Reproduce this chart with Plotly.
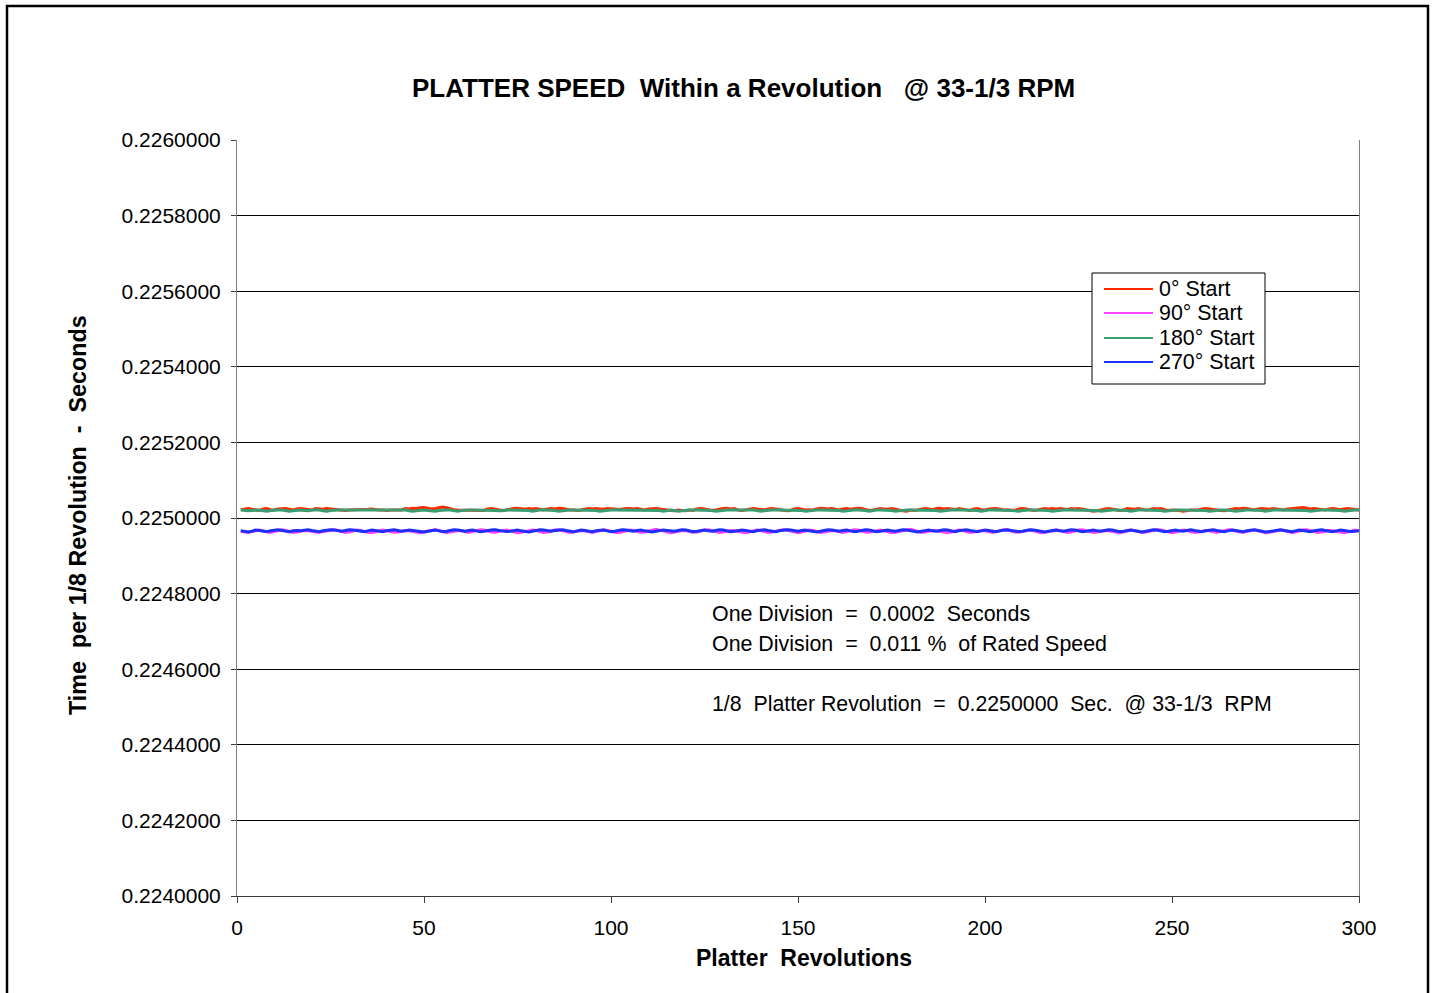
import plotly.graph_objects as go

revolutions = list(range(1, 301))

t_0deg = [
0.225022,0.225024,0.225025,0.225023,0.225021,0.225020,0.225024,0.225025,0.225022,0.225021,0.225024,0.225025,0.225025,0.225023,0.225021,0.225024,0.225025,0.225024,0.225022,0.225021,
0.225025,0.225024,0.225023,0.225025,0.225024,0.225022,0.225021,0.225021,0.225020,0.225021,0.225021,0.225022,0.225021,0.225021,0.225023,0.225024,0.225022,0.225021,0.225021,0.225020,
0.225021,0.225021,0.225020,0.225021,0.225025,0.225024,0.225026,0.225025,0.225027,0.225028,0.225026,0.225024,0.225025,0.225027,0.225029,0.225027,0.225024,0.225022,0.225021,0.225021,
0.225021,0.225020,0.225021,0.225021,0.225021,0.225020,0.225024,0.225025,0.225023,0.225021,0.225020,0.225021,0.225024,0.225025,0.225026,0.225024,0.225023,0.225025,0.225024,0.225025,
0.225022,0.225021,0.225024,0.225025,0.225024,0.225026,0.225025,0.225022,0.225021,0.225021,0.225020,0.225021,0.225024,0.225025,0.225024,0.225025,0.225024,0.225023,0.225025,0.225025,
0.225024,0.225022,0.225024,0.225025,0.225025,0.225024,0.225025,0.225023,0.225021,0.225024,0.225025,0.225025,0.225024,0.225022,0.225021,0.225020,0.225019,0.225021,0.225020,0.225019,
0.225021,0.225020,0.225024,0.225025,0.225024,0.225021,0.225020,0.225021,0.225024,0.225025,0.225026,0.225024,0.225025,0.225021,0.225020,0.225021,0.225024,0.225025,0.225024,0.225022,
0.225021,0.225024,0.225025,0.225024,0.225022,0.225020,0.225019,0.225020,0.225024,0.225025,0.225023,0.225021,0.225022,0.225021,0.225024,0.225026,0.225025,0.225024,0.225025,0.225022,
0.225021,0.225024,0.225025,0.225023,0.225024,0.225026,0.225025,0.225022,0.225020,0.225021,0.225024,0.225025,0.225024,0.225023,0.225025,0.225024,0.225021,0.225019,0.225018,0.225021,
0.225020,0.225021,0.225024,0.225025,0.225024,0.225022,0.225025,0.225026,0.225024,0.225025,0.225024,0.225022,0.225025,0.225024,0.225021,0.225020,0.225024,0.225025,0.225022,0.225021,
0.225024,0.225025,0.225025,0.225023,0.225021,0.225022,0.225021,0.225020,0.225024,0.225025,0.225024,0.225021,0.225020,0.225021,0.225024,0.225025,0.225024,0.225025,0.225023,0.225025,
0.225024,0.225022,0.225025,0.225024,0.225025,0.225023,0.225021,0.225020,0.225018,0.225019,0.225021,0.225024,0.225025,0.225024,0.225021,0.225020,0.225021,0.225025,0.225024,0.225023,
0.225025,0.225024,0.225021,0.225022,0.225025,0.225024,0.225025,0.225022,0.225020,0.225021,0.225021,0.225020,0.225018,0.225020,0.225021,0.225021,0.225021,0.225024,0.225025,0.225024,
0.225022,0.225021,0.225020,0.225019,0.225021,0.225024,0.225025,0.225024,0.225026,0.225025,0.225022,0.225021,0.225024,0.225025,0.225024,0.225023,0.225025,0.225024,0.225022,0.225021,
0.225024,0.225025,0.225025,0.225027,0.225028,0.225026,0.225024,0.225025,0.225024,0.225022,0.225021,0.225024,0.225025,0.225024,0.225022,0.225024,0.225025,0.225024,0.225022,0.225021,
]

t_90deg = [
0.224964,0.224963,0.224962,0.224964,0.224966,0.224968,0.224966,0.224963,0.224962,0.224964,0.224967,0.224969,0.224967,0.224964,0.224962,0.224963,0.224965,0.224967,0.224966,0.224964,
0.224963,0.224962,0.224964,0.224966,0.224968,0.224969,0.224967,0.224964,0.224962,0.224963,0.224966,0.224968,0.224967,0.224964,0.224962,0.224961,0.224963,0.224966,0.224968,0.224966,
0.224964,0.224962,0.224963,0.224965,0.224967,0.224966,0.224964,0.224962,0.224961,0.224963,0.224965,0.224967,0.224969,0.224967,0.224964,0.224962,0.224963,0.224965,0.224967,0.224966,
0.224963,0.224962,0.224964,0.224967,0.224969,0.224968,0.224965,0.224963,0.224962,0.224964,0.224966,0.224968,0.224966,0.224963,0.224961,0.224962,0.224964,0.224966,0.224968,0.224967,
0.224964,0.224962,0.224963,0.224966,0.224968,0.224969,0.224967,0.224964,0.224962,0.224963,0.224965,0.224967,0.224966,0.224963,0.224962,0.224964,0.224967,0.224969,0.224967,0.224964,
0.224962,0.224961,0.224963,0.224966,0.224968,0.224967,0.224964,0.224962,0.224963,0.224965,0.224968,0.224970,0.224968,0.224965,0.224962,0.224961,0.224963,0.224965,0.224967,0.224966,
0.224964,0.224962,0.224963,0.224966,0.224968,0.224969,0.224967,0.224964,0.224962,0.224963,0.224965,0.224967,0.224966,0.224964,0.224962,0.224961,0.224963,0.224966,0.224968,0.224967,
0.224964,0.224962,0.224963,0.224965,0.224967,0.224969,0.224968,0.224965,0.224962,0.224961,0.224963,0.224966,0.224968,0.224967,0.224964,0.224962,0.224963,0.224965,0.224967,0.224966,
0.224963,0.224962,0.224964,0.224967,0.224969,0.224968,0.224965,0.224963,0.224962,0.224964,0.224966,0.224968,0.224966,0.224963,0.224961,0.224962,0.224964,0.224966,0.224969,0.224970,
0.224968,0.224965,0.224962,0.224963,0.224965,0.224967,0.224966,0.224964,0.224962,0.224961,0.224963,0.224966,0.224968,0.224967,0.224964,0.224962,0.224963,0.224965,0.224967,0.224966,
0.224963,0.224962,0.224964,0.224967,0.224969,0.224968,0.224965,0.224963,0.224962,0.224964,0.224966,0.224968,0.224966,0.224963,0.224961,0.224962,0.224964,0.224966,0.224968,0.224967,
0.224964,0.224962,0.224963,0.224966,0.224968,0.224969,0.224967,0.224964,0.224962,0.224963,0.224965,0.224967,0.224966,0.224964,0.224962,0.224961,0.224963,0.224966,0.224968,0.224967,
0.224964,0.224962,0.224963,0.224965,0.224967,0.224969,0.224968,0.224965,0.224962,0.224961,0.224963,0.224966,0.224968,0.224967,0.224964,0.224962,0.224963,0.224965,0.224967,0.224966,
0.224963,0.224962,0.224964,0.224967,0.224969,0.224968,0.224965,0.224963,0.224962,0.224964,0.224966,0.224968,0.224966,0.224963,0.224961,0.224962,0.224964,0.224966,0.224968,0.224967,
0.224964,0.224962,0.224963,0.224966,0.224968,0.224969,0.224967,0.224964,0.224962,0.224963,0.224965,0.224967,0.224966,0.224964,0.224962,0.224961,0.224963,0.224966,0.224968,0.224966,
]

t_180deg = [
0.225021,0.225020,0.225019,0.225020,0.225021,0.225021,0.225019,0.225018,0.225020,0.225021,0.225021,0.225021,0.225020,0.225018,0.225019,0.225021,0.225021,0.225020,0.225019,0.225021,
0.225021,0.225021,0.225019,0.225018,0.225020,0.225021,0.225021,0.225021,0.225021,0.225022,0.225021,0.225021,0.225021,0.225022,0.225023,0.225022,0.225021,0.225021,0.225021,0.225021,
0.225021,0.225021,0.225021,0.225021,0.225021,0.225019,0.225018,0.225019,0.225021,0.225021,0.225020,0.225019,0.225018,0.225020,0.225021,0.225021,0.225021,0.225019,0.225018,0.225020,
0.225021,0.225021,0.225021,0.225021,0.225021,0.225021,0.225021,0.225021,0.225020,0.225019,0.225019,0.225021,0.225021,0.225021,0.225021,0.225021,0.225021,0.225020,0.225018,0.225020,
0.225021,0.225021,0.225021,0.225021,0.225020,0.225018,0.225019,0.225021,0.225021,0.225021,0.225021,0.225021,0.225021,0.225021,0.225021,0.225020,0.225018,0.225019,0.225021,0.225021,
0.225021,0.225021,0.225021,0.225021,0.225021,0.225021,0.225021,0.225021,0.225021,0.225021,0.225021,0.225021,0.225020,0.225018,0.225019,0.225021,0.225020,0.225018,0.225019,0.225021,
0.225021,0.225021,0.225021,0.225021,0.225021,0.225021,0.225020,0.225018,0.225019,0.225021,0.225021,0.225021,0.225021,0.225021,0.225022,0.225021,0.225021,0.225021,0.225020,0.225018,
0.225019,0.225021,0.225021,0.225021,0.225021,0.225021,0.225021,0.225021,0.225021,0.225021,0.225020,0.225018,0.225019,0.225021,0.225021,0.225021,0.225021,0.225021,0.225021,0.225021,
0.225020,0.225018,0.225019,0.225021,0.225021,0.225021,0.225021,0.225020,0.225018,0.225020,0.225021,0.225021,0.225021,0.225021,0.225020,0.225018,0.225019,0.225021,0.225021,0.225021,
0.225021,0.225021,0.225021,0.225021,0.225021,0.225021,0.225020,0.225018,0.225019,0.225021,0.225021,0.225021,0.225022,0.225021,0.225021,0.225021,0.225021,0.225020,0.225018,0.225020,
0.225021,0.225021,0.225021,0.225021,0.225021,0.225021,0.225020,0.225019,0.225018,0.225020,0.225021,0.225021,0.225021,0.225021,0.225021,0.225021,0.225020,0.225018,0.225019,0.225021,
0.225021,0.225021,0.225021,0.225021,0.225021,0.225021,0.225021,0.225021,0.225021,0.225020,0.225018,0.225019,0.225021,0.225021,0.225021,0.225021,0.225021,0.225020,0.225018,0.225020,
0.225021,0.225021,0.225021,0.225021,0.225021,0.225021,0.225020,0.225018,0.225019,0.225021,0.225021,0.225021,0.225021,0.225021,0.225021,0.225021,0.225021,0.225021,0.225020,0.225018,
0.225019,0.225021,0.225021,0.225021,0.225021,0.225020,0.225018,0.225019,0.225021,0.225021,0.225021,0.225021,0.225021,0.225020,0.225018,0.225020,0.225021,0.225021,0.225021,0.225021,
0.225021,0.225021,0.225021,0.225021,0.225021,0.225020,0.225018,0.225019,0.225021,0.225021,0.225021,0.225021,0.225021,0.225021,0.225020,0.225018,0.225019,0.225021,0.225021,0.225021,
]

t_270deg = [
0.224966,0.224964,0.224963,0.224965,0.224968,0.224967,0.224965,0.224964,0.224966,0.224968,0.224969,0.224967,0.224965,0.224964,0.224966,0.224967,0.224966,0.224968,0.224969,0.224967,
0.224965,0.224964,0.224966,0.224968,0.224969,0.224968,0.224966,0.224965,0.224967,0.224969,0.224968,0.224966,0.224965,0.224964,0.224966,0.224968,0.224967,0.224965,0.224964,0.224966,
0.224968,0.224969,0.224967,0.224965,0.224966,0.224968,0.224967,0.224965,0.224964,0.224963,0.224965,0.224967,0.224968,0.224966,0.224964,0.224965,0.224967,0.224969,0.224968,0.224966,
0.224965,0.224967,0.224968,0.224966,0.224964,0.224965,0.224967,0.224968,0.224969,0.224967,0.224965,0.224964,0.224965,0.224967,0.224968,0.224966,0.224964,0.224963,0.224965,0.224967,
0.224969,0.224968,0.224966,0.224965,0.224967,0.224968,0.224969,0.224967,0.224965,0.224964,0.224966,0.224968,0.224967,0.224965,0.224964,0.224966,0.224967,0.224968,0.224966,0.224964,
0.224965,0.224967,0.224969,0.224968,0.224966,0.224965,0.224967,0.224968,0.224966,0.224964,0.224963,0.224965,0.224967,0.224968,0.224967,0.224966,0.224965,0.224967,0.224969,0.224968,
0.224966,0.224964,0.224965,0.224967,0.224968,0.224966,0.224965,0.224967,0.224969,0.224968,0.224966,0.224964,0.224965,0.224967,0.224968,0.224967,0.224965,0.224964,0.224966,0.224968,
0.224969,0.224967,0.224965,0.224964,0.224966,0.224968,0.224969,0.224968,0.224966,0.224965,0.224967,0.224968,0.224966,0.224964,0.224963,0.224965,0.224967,0.224969,0.224968,0.224966,
0.224965,0.224967,0.224968,0.224966,0.224964,0.224965,0.224967,0.224969,0.224968,0.224966,0.224964,0.224965,0.224967,0.224968,0.224966,0.224965,0.224967,0.224969,0.224968,0.224966,
0.224964,0.224963,0.224965,0.224967,0.224968,0.224966,0.224965,0.224967,0.224969,0.224968,0.224966,0.224964,0.224966,0.224968,0.224969,0.224967,0.224965,0.224964,0.224966,0.224968,
0.224967,0.224965,0.224964,0.224966,0.224968,0.224969,0.224967,0.224965,0.224964,0.224965,0.224967,0.224969,0.224968,0.224966,0.224964,0.224963,0.224965,0.224967,0.224968,0.224966,
0.224965,0.224967,0.224969,0.224968,0.224966,0.224964,0.224965,0.224967,0.224968,0.224966,0.224965,0.224967,0.224969,0.224968,0.224966,0.224964,0.224965,0.224967,0.224968,0.224966,
0.224964,0.224963,0.224965,0.224967,0.224969,0.224968,0.224966,0.224964,0.224965,0.224967,0.224968,0.224966,0.224965,0.224967,0.224969,0.224967,0.224965,0.224964,0.224966,0.224968,
0.224969,0.224967,0.224965,0.224964,0.224966,0.224968,0.224967,0.224965,0.224964,0.224966,0.224968,0.224969,0.224967,0.224965,0.224963,0.224964,0.224966,0.224968,0.224969,0.224967,
0.224965,0.224964,0.224966,0.224968,0.224967,0.224965,0.224964,0.224966,0.224968,0.224969,0.224967,0.224965,0.224964,0.224966,0.224968,0.224967,0.224965,0.224964,0.224965,0.224966,
]

series_names = ["0° Start", "90° Start", "180° Start", "270° Start"]
series_colors = ["#FF2A00", "#FF44FF", "#3A9E72", "#1E2EFF"]
series_values = [t_0deg, t_90deg, t_180deg, t_270deg]

y_ticks = [0.2240 + 0.0002 * i for i in range(11)]
x_ticks = [0, 50, 100, 150, 200, 250, 300]

FONT = "Liberation Sans, Arial, sans-serif"
NB = "\u00a0"

fig = go.Figure()
for name, color, vals in zip(series_names, series_colors, series_values):
    fig.add_trace(go.Scatter(
        x=revolutions, y=vals, mode="lines", name=name,
        line=dict(color=color, width=3, shape="linear"),
        showlegend=False,
    ))

L, R, T, B = 237, 75, 140, 97
W, H = 1434, 993
pw, ph = W - L - R, H - T - B

def px(x):
    return (x - L) / pw

def py(y):
    return (H - B - y) / ph

fig.update_layout(
    width=W, height=H,
    margin=dict(l=L, r=R, t=T, b=B, pad=0),
    paper_bgcolor="white", plot_bgcolor="white",
    font=dict(family=FONT, size=21, color="black"),
    showlegend=False,
    xaxis=dict(
        range=[0, 300], tickmode="array", tickvals=x_ticks,
        ticktext=[str(v) for v in x_ticks],
        showgrid=False, zeroline=False,
        showline=True, linecolor="#404040", linewidth=1,
        ticks="outside", ticklen=6, tickcolor="#404040", tickwidth=1,
        ticklabelstandoff=7,
        tickfont=dict(family=FONT, size=21, color="black"),
    ),
    yaxis=dict(
        range=[0.2240, 0.2260], tickmode="array", tickvals=y_ticks,
        ticktext=[f"{v:.7f}" for v in y_ticks],
        showgrid=True, gridcolor="#000000", gridwidth=1,
        zeroline=False,
        showline=True, linecolor="#808080", linewidth=1, mirror=True,
        ticks="outside", ticklen=5, tickcolor="#404040", tickwidth=1,
        ticklabelstandoff=6,
        tickfont=dict(family=FONT, size=21, color="black"),
    ),
)

annotations = [
    dict(text="<b>PLATTER SPEED" + NB + " Within a Revolution" + NB * 2 + " @ 33-1/3 RPM</b>",
         x=px(743), y=py(88), font=dict(size=26)),
    dict(text="<b>Time" + NB + " per 1/8 Revolution" + NB + " -" + NB + " Seconds</b>",
         x=px(78), y=py(515), textangle=-90, font=dict(size=23.3)),
    dict(text="<b>Platter" + NB + " Revolutions</b>",
         x=px(804), y=py(958), font=dict(size=23)),
    dict(text="One Division" + NB + " =" + NB + " 0.0002" + NB + " Seconds",
         x=px(710), y=py(614), xanchor="left", font=dict(size=21.4)),
    dict(text="One Division" + NB + " =" + NB + " 0.011 %" + NB + " of Rated Speed",
         x=px(710), y=py(644), xanchor="left", font=dict(size=21.4)),
    dict(text="1/8" + NB + " Platter Revolution" + NB + " =" + NB + " 0.2250000" + NB + " Sec." + NB + " @ 33-1/3" + NB + " RPM",
         x=px(710), y=py(704), xanchor="left", font=dict(size=21.3)),
]
for a in annotations:
    a.setdefault("xanchor", "center")
    fig.add_annotation(xref="paper", yref="paper", showarrow=False,
                       yanchor="middle", **a)

# legend box (drawn with shapes and text, matching the original's proportions)
fig.add_shape(type="rect", xref="paper", yref="paper",
              x0=px(1092), x1=px(1265), y0=py(384), y1=py(273),
              line=dict(color="black", width=1), fillcolor="white", layer="above")
legend_rows_y = [289, 313, 338, 362]
for name, color, ry in zip(series_names, series_colors, legend_rows_y):
    fig.add_shape(type="line", xref="paper", yref="paper",
                  x0=px(1104), x1=px(1153), y0=py(ry), y1=py(ry),
                  line=dict(color=color, width=2), layer="above")
    fig.add_annotation(xref="paper", yref="paper", showarrow=False,
                       x=px(1157), y=py(ry), xanchor="left", yanchor="middle",
                       text=name, font=dict(size=21.4))

fig.add_shape(type="rect", xref="paper", yref="paper",
              x0=px(7), x1=px(1428), y0=py(1000), y1=py(6),
              line=dict(color="black", width=2.5), fillcolor="rgba(0,0,0,0)",
              layer="above")

fig.write_html("out.html")
